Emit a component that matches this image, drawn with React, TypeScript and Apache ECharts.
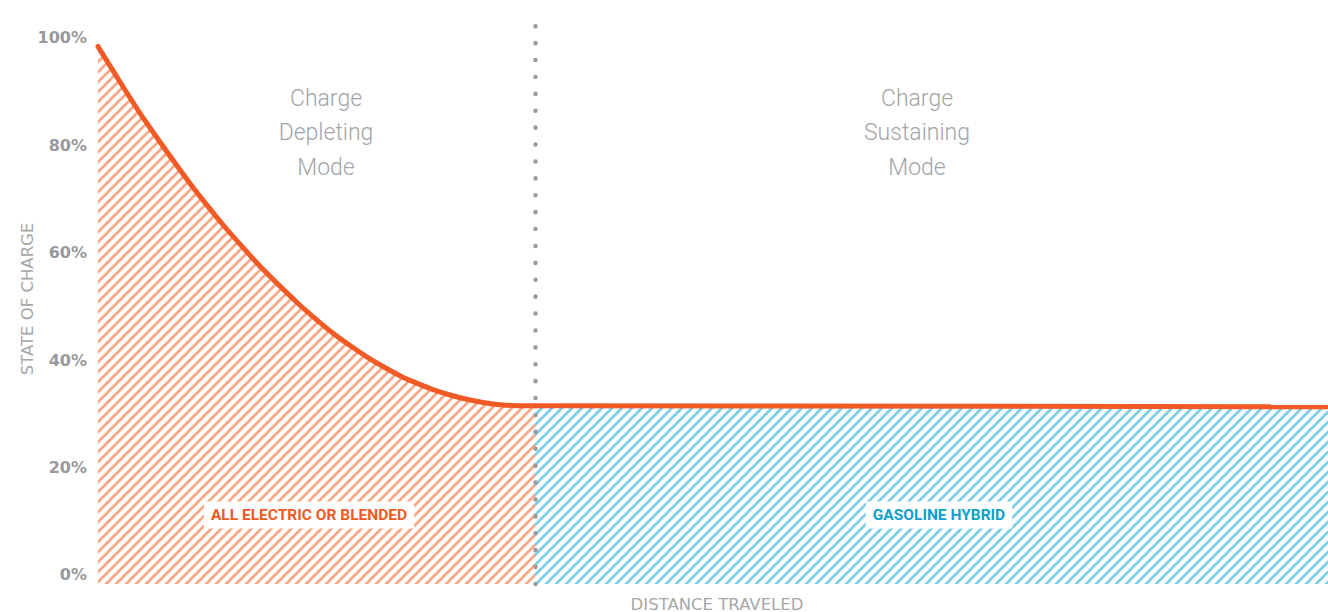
import React, { useEffect, useRef } from "react";
import * as echarts from "echarts";

// Distance travelled (arbitrary 0–100 scale) and state of charge (%)
const depletingDistance = [0, 2.06, 3.41, 4.77, 6.1, 7.48, 8.84, 10.16, 11.54, 13.41, 16.42, 17.78, 19.11, 20.49, 21.85, 23.17, 24.55, 25.91, 27.24, 28.62, 29.98, 31.3, 32.68, 34.04, 35.53];
const depletingCharge = [98.4, 90.8, 86.0, 81.5, 77.2, 72.9, 68.9, 65.2, 61.6, 56.9, 50.2, 47.5, 45.0, 42.7, 40.6, 38.8, 37.1, 35.7, 34.5, 33.5, 32.7, 32.1, 31.7, 31.5, 31.5];
const sustainingDistance = [35.53, 100];
const sustainingCharge = [31.5, 31.3];
const modeSplit = 35.53;
const yTicks = [0, 20, 40, 60, 80, 100];

const modeLabels = ["Charge\nDepleting\nMode", "Charge\nSustaining\nMode"];
const regionLabels = ["ALL ELECTRIC OR BLENDED", "GASOLINE HYBRID"];
const axisTitles = ["STATE OF CHARGE", "DISTANCE TRAVELED"];

function hatch(color: string) {
  const s = 10;
  const c = document.createElement("canvas");
  c.width = s;
  c.height = s;
  const ctx = c.getContext("2d")!;
  ctx.strokeStyle = color;
  ctx.lineWidth = 2.7;
  ctx.lineCap = "square";
  for (const k of [-s, 0, s]) {
    ctx.beginPath();
    ctx.moveTo(k, s);
    ctx.lineTo(k + s, 0);
    ctx.stroke();
  }
  return { image: c.toDataURL(), repeat: "repeat", imageWidth: s, imageHeight: s } as any;
}

export default function App() {
  const ref = useRef<HTMLDivElement>(null);
  useEffect(() => {
    if (!ref.current) return;
    const chart = echarts.init(ref.current, null, { renderer: "svg" });
    const orange = "#f15a24";
    const modeStyle = {
      fill: "#a2a4a8",
      fontFamily: "Roboto",
      fontWeight: 300,
      fontSize: 23,
      lineHeight: 34.5,
      align: "center",
      verticalAlign: "top",
    };
    const regionStyle = {
      fontFamily: "Roboto",
      fontWeight: 700,
      fontSize: 15.5,
      align: "center",
      verticalAlign: "middle",
      backgroundColor: "#ffffff",
      padding: [6, 7, 5, 7],
    };
    const titleStyle = {
      fill: "#a6a7a9",
      fontFamily: "DejaVu Sans",
      fontWeight: 400,
      fontSize: 16.5,
      align: "center",
      verticalAlign: "middle",
    };
    chart.setOption({
      animation: false,
      grid: { left: 98, right: 0, top: 18, bottom: 28 },
      xAxis: {
        type: "value",
        min: 0,
        max: 100,
        axisLine: { show: false },
        axisTick: { show: false },
        axisLabel: { show: false },
        splitLine: { show: false },
      },
      yAxis: {
        type: "value",
        min: -1.7,
        max: 103.7,
        axisLine: { show: false },
        axisTick: { show: false },
        splitLine: { show: false },
        axisLabel: {
          customValues: yTicks,
          formatter: (v: number) => `${Math.round(v)}%`,
          color: "#98999c",
          fontFamily: "DejaVu Sans",
          fontWeight: "bold",
          fontSize: 16,
          margin: 11,
        },
      },
      series: [
        {
          type: "line",
          data: depletingDistance.map((d, i) => [d, depletingCharge[i]]),
          showSymbol: false,
          smooth: 0.3,
          lineStyle: { color: orange, width: 5, cap: "round" },
          areaStyle: { color: hatch("#f8a787"), opacity: 1, origin: "start" },
          z: 3,
        },
        {
          type: "line",
          data: sustainingDistance.map((d, i) => [d, sustainingCharge[i]]),
          showSymbol: false,
          lineStyle: { color: orange, width: 5 },
          areaStyle: { color: hatch("#7ccde6"), opacity: 1, origin: "start" },
          z: 3,
          markLine: {
            silent: true,
            symbol: "none",
            label: { show: false },
            lineStyle: { color: "#9a9b9d", width: 4.5, type: [0.1, 16.8], cap: "round" },
            data: [{ xAxis: modeSplit }],
            z: 5,
          },
        },
      ],
      graphic: [
        { type: "text", x: 326, y: 81, style: { ...modeStyle, text: modeLabels[0] } },
        { type: "text", x: 917, y: 81, style: { ...modeStyle, text: modeLabels[1] } },
        { type: "text", x: 309, y: 515, z: 10, style: { ...regionStyle, text: regionLabels[0], fill: orange } },
        { type: "text", x: 939, y: 515, z: 10, style: { ...regionStyle, text: regionLabels[1], fill: "#0d9fcc" } },
        { type: "text", x: 27, y: 299, rotation: Math.PI / 2, style: { ...titleStyle, text: axisTitles[0] } },
        { type: "text", x: 717, y: 604, style: { ...titleStyle, text: axisTitles[1] } },
      ],
    });
    return () => chart.dispose();
  }, []);
  return <div ref={ref} style={{ width: 1328, height: 612, position: "absolute", left: 0, top: 0 }} />;
}
